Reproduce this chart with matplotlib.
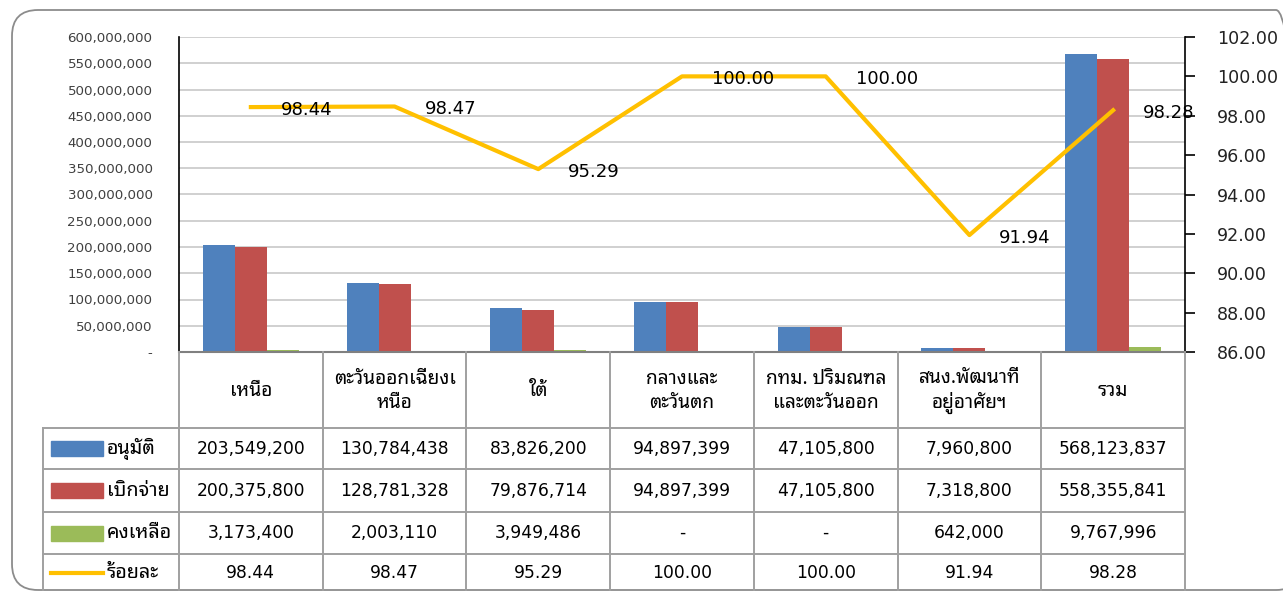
import matplotlib
matplotlib.use('Agg')
import matplotlib.pyplot as plt
import numpy as np
from matplotlib.patches import FancyBboxPatch, Rectangle
from matplotlib.lines import Line2D
from matplotlib.transforms import IdentityTransform
from matplotlib.ticker import FuncFormatter, MultipleLocator

plt.rcParams['font.family'] = ['DejaVu Sans', 'Noto Sans Thai Looped']

# ---- data ----
categories = ['เหนือ', 'ตะวันออกเฉียงเ\nหนือ', 'ใต้', 'กลางและ\nตะวันตก',
              'กทม. ปริมณฑล\nและตะวันออก', 'สนง.พัฒนาที่\nอยู่อาศัยฯ', 'รวม']
approved = [203549200, 130784438, 83826200, 94897399, 47105800, 7960800, 568123837]
disbursed = [200375800, 128781328, 79876714, 94897399, 47105800, 7318800, 558355841]
remaining = [3173400, 2003110, 3949486, 0, 0, 642000, 9767996]
percent = [98.44, 98.47, 95.29, 100.00, 100.00, 91.94, 98.28]
series_names = ['อนุมัติ', 'เบิกจ่าย', 'คงเหลือ', 'ร้อยละ']
colors = ['#4F81BD', '#C0504D', '#9BBB59', '#FFC000']

W, H = 1283, 591
fig = plt.figure(figsize=(W / 100, H / 100), dpi=100)

def fx(px):
    return px / W

def fy(py):
    return 1 - py / H

THAI = ['Noto Sans Thai Looped', 'DejaVu Sans']

L, R, T, B = 179, 1185, 37, 352
ax = fig.add_axes([fx(L), fy(B), fx(R) - fx(L), fy(T) - fy(B)])
n = len(categories)
x = np.arange(n)
w = 0.2227
ax.bar(x - w, approved, w, color=colors[0], zorder=2)
ax.bar(x, disbursed, w, color=colors[1], zorder=2)
ax.bar(x + w, remaining, w, color=colors[2], zorder=2)
ax.set_xlim(-0.5, n - 0.5)
ax.set_ylim(0, 600000000)
ax.yaxis.set_major_locator(MultipleLocator(50000000))
ax.yaxis.set_major_formatter(FuncFormatter(lambda v, p: '-' if v == 0 else f'{int(v):,}'))
ax.grid(axis='y', color='#C8C8C8', linewidth=1.2)
ax.set_axisbelow(True)
ax.set_xticks([])
ax.tick_params(axis='y', length=0, pad=19, labelsize=9.6, labelcolor='#404040')
ax.spines['top'].set_visible(False)
ax.spines['right'].set_visible(False)
ax.spines['left'].set_color('black')
ax.spines['left'].set_linewidth(1.2)
ax.spines['bottom'].set_color('#808080')
ax.spines['bottom'].set_linewidth(1.5)
ax.patch.set_visible(False)

ax2 = ax.twinx()
ax2.plot(x, percent, color=colors[3], linewidth=3, zorder=3)
ax2.set_ylim(86, 102)
ax2.yaxis.set_major_locator(MultipleLocator(2))
ax2.yaxis.set_major_formatter(FuncFormatter(lambda v, p: f'{v:.2f}'))
ax2.tick_params(axis='y', direction='out', length=7, width=1.2, pad=16, labelsize=12.6,
                labelcolor='#222222')
for s in ['top', 'left', 'bottom']:
    ax2.spines[s].set_visible(False)
ax2.spines['right'].set_color('black')
ax2.spines['right'].set_linewidth(1.2)
for xi, p in zip(x, percent):
    ax2.annotate(f'{p:.2f}', (xi, p), xytext=(21.5, -2), textcoords='offset points',
                 ha='left', va='center', fontsize=13, color='black')

# ---- data table ----
grid_c = '#A0A0A0'
cw = (R - L) / n
col_edges = [L + i * cw for i in range(n + 1)]
row_edges = [B, 428, 469, 512, 554, 600]
TL = 43

def hline(y, x0, x1):
    fig.add_artist(Line2D([fx(x0), fx(x1)], [fy(y), fy(y)], color=grid_c, lw=1.4))

def vline(xp, y0, y1):
    fig.add_artist(Line2D([fx(xp), fx(xp)], [fy(y0), fy(y1)], color=grid_c, lw=1.4))

for y in row_edges[1:-1]:
    hline(y, TL, R)
for xe in col_edges:
    vline(xe, B, 600)
vline(TL, row_edges[1], 600)

hdr_y = (row_edges[0] + row_edges[1]) / 2 + 1
for i, c in enumerate(categories):
    cx = (col_edges[i] + col_edges[i + 1]) / 2
    fig.text(fx(cx), fy(hdr_y), c, ha='center', va='center', fontsize=13.8,
             linespacing=1.25, family=THAI)

def fmt_num(v):
    return '-' if v == 0 else f'{v:,}'

rows = [[fmt_num(v) for v in approved], [fmt_num(v) for v in disbursed],
        [fmt_num(v) for v in remaining], [f'{v:.2f}' for v in percent]]
for r, vals in enumerate(rows):
    cy = (row_edges[r + 1] + row_edges[r + 2]) / 2 if r < 3 else 573
    for i, s in enumerate(vals):
        cx = (col_edges[i] + col_edges[i + 1]) / 2
        fig.text(fx(cx), fy(cy), s, ha='center', va='center', fontsize=12.3, color='black')
    # legend key
    if r < 3:
        fig.add_artist(Rectangle((fx(51), fy(cy + 7.5)), fx(103) - fx(51), fy(cy - 7.5) - fy(cy + 7.5),
                                 color=colors[r], transform=fig.transFigure))
    else:
        fig.add_artist(Line2D([fx(51), fx(103)], [fy(cy), fy(cy)], color=colors[3], lw=3))
    fig.text(fx(107), fy(cy), series_names[r], ha='left', va='center', fontsize=14.2,
             family=THAI)

# rounded frame
frame = FancyBboxPatch((12, 1), 1290, 580, boxstyle='round,pad=0,rounding_size=26',
                       transform=IdentityTransform(), facecolor='none', edgecolor='#8C8C8C', lw=1.3)
fig.add_artist(frame)

fig.savefig('out.png', dpi=100)
